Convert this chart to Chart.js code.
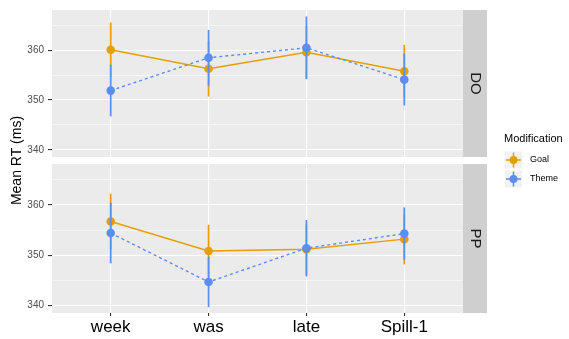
<!DOCTYPE html>
<html>
<head>
<meta charset="utf-8">
<script src="https://cdn.jsdelivr.net/npm/chart.js@4"></script>
<style>
  body { margin: 0; background: #fff; }
  #wrap { position: relative; width: 569px; height: 339px; }
  canvas { position: absolute; left: 0; top: 0; }
</style>
</head>
<body>
<div id="wrap">
  <canvas id="panelDO" width="569" height="339"></canvas>
  <canvas id="panelPP" width="569" height="339"></canvas>
</div>
<script>
// ---- data ----
const categories = ['week', 'was', 'late', 'Spill-1'];
const yTicks = [340, 345, 350, 355, 360, 365];

const doGoal = [360.1, 356.3, 359.6, 355.8];
const doGoalErr = [5.5, 5.6, 5.3, 5.3];
const doTheme = [351.9, 358.5, 360.5, 354.1];
const doThemeErr = [5.2, 5.6, 6.3, 5.2];

const ppGoal = [356.7, 350.85, 351.2, 353.2];
const ppGoalErr = [5.5, 5.2, 5.0, 5.0];
const ppTheme = [354.4, 344.7, 351.4, 354.3];
const ppThemeErr = [6.0, 5.0, 5.6, 5.2];

const GOAL = '#E69F00';
const THEME = '#5C8DF0';
const FONT = '"Liberation Sans", Arial, sans-serif';

// ---- plugins ----
const panelBg = {
    id: 'panelBg',
    beforeDraw(chart) {
        const a = chart.chartArea, ctx = chart.ctx;
        ctx.save();
        ctx.fillStyle = '#EBEBEB';
        ctx.fillRect(a.left, a.top, a.right - a.left, a.bottom - a.top);
        ctx.restore();
    }
};

// error bars drawn just before each point dataset
const errorBars = {
    id: 'errorBars',
    beforeDatasetDraw(chart, args) {
        const ds = chart.data.datasets[args.index];
        if (!ds.err) return;
        const ctx = chart.ctx, xs = chart.scales.x, ys = chart.scales.y;
        ctx.save();
        ctx.strokeStyle = ds.borderColor;
        ctx.lineWidth = 1.7;
        ds.data.forEach((p, i) => {
            const x = xs.getPixelForValue(p.x);
            ctx.beginPath();
            ctx.moveTo(x, ys.getPixelForValue(p.y - ds.err[i]));
            ctx.lineTo(x, ys.getPixelForValue(p.y + ds.err[i]));
            ctx.stroke();
        });
        ctx.restore();
    }
};

const strip = {
    id: 'strip',
    afterDraw(chart, args, opts) {
        const a = chart.chartArea, ctx = chart.ctx;
        ctx.save();
        ctx.fillStyle = '#CFCFCF';
        ctx.fillRect(a.right, a.top, 24, a.bottom - a.top);
        ctx.translate(a.right + 12, (a.top + a.bottom) / 2);
        ctx.rotate(Math.PI / 2);
        ctx.fillStyle = '#1A1A1A';
        ctx.font = '15px ' + FONT;
        ctx.textAlign = 'center';
        ctx.textBaseline = 'middle';
        ctx.fillText(opts.label, 0, 0);
        ctx.restore();
    }
};

// y title + legend, drawn once on the lower panel
const extras = {
    id: 'extras',
    afterDraw(chart, args, opts) {
        if (!opts.show) return;
        const ctx = chart.ctx;
        ctx.save();
        ctx.fillStyle = '#000';
        ctx.font = '14px ' + FONT;
        ctx.textAlign = 'center';
        ctx.textBaseline = 'middle';
        ctx.translate(17.5, 160.5);
        ctx.rotate(-Math.PI / 2);
        ctx.fillText('Mean RT (ms)', 0, 0);
        ctx.restore();

        ctx.save();
        ctx.fillStyle = '#000';
        ctx.font = '11px ' + FONT;
        ctx.textBaseline = 'middle';
        ctx.fillText('Modification', 504, 139);
        const items = [['Goal', GOAL], ['Theme', THEME]];
        items.forEach(([name, col], i) => {
            const kx = 505, ky = 151.5 + i * 19;
            ctx.fillStyle = '#F2F2F2';
            ctx.fillRect(kx, ky, 17, 17);
            ctx.strokeStyle = col;
            ctx.lineWidth = 1.5;
            ctx.beginPath();
            ctx.moveTo(kx + 8.5, ky + 1); ctx.lineTo(kx + 8.5, ky + 16);
            ctx.moveTo(kx + 1, ky + 8.5); ctx.lineTo(kx + 16, ky + 8.5);
            ctx.stroke();
            ctx.fillStyle = col;
            ctx.beginPath();
            ctx.arc(kx + 8.5, ky + 8.5, 4, 0, Math.PI * 2);
            ctx.fill();
            ctx.fillStyle = '#000';
            ctx.font = '9px ' + FONT;
            ctx.fillText(name, 530, ky + 8.5);
        });
        ctx.restore();
    }
};

// ---- panel builder ----
function pts(vals) {
    return vals.map((v, i) => ({ x: i + 1, y: v }));
}

function makePanel(id, label, goal, goalErr, theme, themeErr, isBottom) {
    return new Chart(document.getElementById(id), {
        type: 'line',
        data: {
            datasets: [
                { data: pts(goal), borderColor: GOAL, borderWidth: 1.4, pointRadius: 0, order: 4 },
                { data: pts(theme), borderColor: THEME, borderWidth: 1.4, borderDash: [3, 3], pointRadius: 0, order: 3 },
                { data: pts(goal), err: goalErr, borderColor: GOAL, backgroundColor: GOAL, showLine: false,
                  pointRadius: 4.3, pointBorderWidth: 0, order: 2 },
                { data: pts(theme), err: themeErr, borderColor: THEME, backgroundColor: THEME, showLine: false,
                  pointRadius: 4.3, pointBorderWidth: 0, order: 1 }
            ]
        },
        options: {
            responsive: false,
            animation: false,
            events: [],
            layout: { padding: { left: 0, right: 106, top: isBottom ? 164 : 8, bottom: isBottom ? 0 : 182 } },
            plugins: {
                legend: { display: false },
                tooltip: { enabled: false },
                strip: { label: label },
                extras: { show: isBottom }
            },
            scales: {
                x: {
                    type: 'linear',
                    min: 0.4,
                    max: 4.6,
                    afterBuildTicks: s => { s.ticks = categories.map((c, i) => ({ value: i + 1 })); },
                    afterFit: s => { s.height = isBottom ? 26 : 0; },
                    border: { display: false },
                    grid: { color: '#FFFFFF', lineWidth: 1.1, drawTicks: isBottom, tickLength: 3, tickColor: '#333333' },
                    ticks: {
                        display: isBottom,
                        padding: 1,
                        maxRotation: 0,
                        color: '#000',
                        font: { size: 17, family: FONT },
                        callback: v => categories[v - 1]
                    }
                },
                y: {
                    min: 338.55,
                    max: 368.1,
                    afterBuildTicks: s => { s.ticks = yTicks.map(v => ({ value: v })); },
                    afterFit: s => { s.width = 52; },
                    border: { display: false },
                    grid: {
                        color: '#FFFFFF',
                        lineWidth: c => (c.tick && c.tick.value % 10 === 0) ? 1.1 : 0.5,
                        tickLength: 4,
                        tickColor: c => (c.tick && c.tick.value % 10 === 0) ? '#333333' : 'rgba(0,0,0,0)'
                    },
                    ticks: {
                        padding: 4,
                        color: '#4D4D4D',
                        font: { size: 10, family: FONT },
                        callback: v => (v % 10 === 0 ? String(v) : '')
                    }
                }
            }
        },
        plugins: [panelBg, errorBars, strip, extras]
    });
}

makePanel('panelDO', 'DO', doGoal, doGoalErr, doTheme, doThemeErr, false);
makePanel('panelPP', 'PP', ppGoal, ppGoalErr, ppTheme, ppThemeErr, true);
</script>
</body>
</html>
